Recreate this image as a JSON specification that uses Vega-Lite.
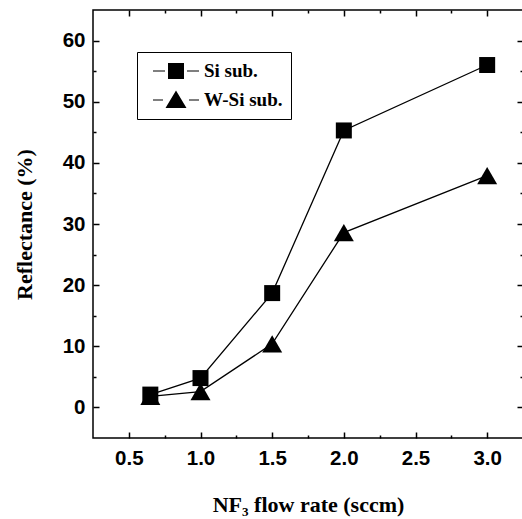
{
  "$schema": "https://vega.github.io/schema/vega-lite/v6.json",
  "autosize": "none",
  "padding": {"left": 93, "top": 10, "right": 0, "bottom": 81},
  "width": 430,
  "height": 428,
  "background": "white",
  "config": {
    "view": {"stroke": "black", "strokeWidth": 1.5},
    "axis": {
      "grid": false,
      "domain": false,
      "tickColor": "black",
      "tickWidth": 1.5,
      "labelColor": "black",
      "titleColor": "black",
      "labelFont": "Liberation Sans",
      "labelFontWeight": "bold",
      "labelFontSize": 20.5,
      "titleFont": "Liberation Serif",
      "titleFontWeight": "bold",
      "titleFontSize": 22
    }
  },
  "data": {
    "values": [
      {"flow": 0.65, "refl": 2.1, "series": "Si sub."},
      {"flow": 1.0, "refl": 4.8, "series": "Si sub."},
      {"flow": 1.5, "refl": 18.7, "series": "Si sub."},
      {"flow": 2.0, "refl": 45.3, "series": "Si sub."},
      {"flow": 3.0, "refl": 56.0, "series": "Si sub."},
      {"flow": 0.65, "refl": 1.8, "series": "W-Si sub."},
      {"flow": 1.0, "refl": 2.6, "series": "W-Si sub."},
      {"flow": 1.5, "refl": 10.4, "series": "W-Si sub."},
      {"flow": 2.0, "refl": 28.6, "series": "W-Si sub."},
      {"flow": 3.0, "refl": 37.9, "series": "W-Si sub."}
    ]
  },
  "layer": [
    {
      "mark": {"type": "line", "color": "black", "strokeWidth": 1.3},
      "encoding": {
        "x": {
          "field": "flow", "type": "quantitative",
          "scale": {"domain": [0.25, 3.25], "nice": false, "zero": false},
          "axis": {
            "orient": "bottom",
            "values": [0.5, 1.0, 1.5, 2.0, 2.5, 3.0],
            "format": ".1f",
            "tickSize": -6,
            "labelPadding": 16,
            "title": "NF₃ flow rate (sccm)",
            "titlePadding": 26
          }
        },
        "y": {
          "field": "refl", "type": "quantitative",
          "scale": {"domain": [-5, 65], "nice": false, "zero": false},
          "axis": {
            "orient": "left",
            "values": [0, 10, 20, 30, 40, 50, 60],
            "tickSize": -6,
            "labelPadding": 14,
            "title": "Reflectance (%)",
            "titlePadding": 26
          }
        },
        "detail": {"field": "series"}
      }
    },
    {
      "transform": [{"filter": "datum.series === 'Si sub.'"}],
      "mark": {"type": "point", "filled": true, "color": "black", "opacity": 1, "shape": "square", "size": 256},
      "encoding": {
        "x": {
          "field": "flow", "type": "quantitative",
          "scale": {"domain": [0.25, 3.25], "nice": false, "zero": false},
          "axis": {"orient": "top", "values": [0.5, 1.0, 1.5, 2.0, 2.5, 3.0], "tickSize": -6, "labels": false, "title": null}
        },
        "y": {
          "field": "refl", "type": "quantitative",
          "scale": {"domain": [-5, 65], "nice": false, "zero": false},
          "axis": {"orient": "right", "values": [0, 10, 20, 30, 40, 50, 60], "tickSize": -6, "labels": false, "title": null}
        }
      }
    },
    {
      "transform": [{"filter": "datum.series === 'W-Si sub.'"}],
      "mark": {"type": "point", "filled": true, "color": "black", "opacity": 1, "shape": "triangle-up", "size": 400},
      "encoding": {
        "x": {
          "field": "flow", "type": "quantitative",
          "scale": {"domain": [0.25, 3.25], "nice": false, "zero": false},
          "axis": {"orient": "bottom", "values": [0.75, 1.25, 1.75, 2.25, 2.75], "tickSize": -3, "labels": false, "title": null}
        },
        "y": {
          "field": "refl", "type": "quantitative",
          "scale": {"domain": [-5, 65], "nice": false, "zero": false},
          "axis": {"orient": "left", "values": [5, 15, 25, 35, 45, 55], "tickSize": -3, "labels": false, "title": null}
        }
      }
    },
    {
      "mark": {"type": "point", "filled": true, "color": "black", "opacity": 0, "size": 400},
      "encoding": {
        "x": {
          "field": "flow", "type": "quantitative",
          "scale": {"domain": [0.25, 3.25], "nice": false, "zero": false},
          "axis": {"orient": "top", "values": [0.75, 1.25, 1.75, 2.25, 2.75], "tickSize": -3, "labels": false, "title": null}
        },
        "y": {
          "field": "refl", "type": "quantitative",
          "scale": {"domain": [-5, 65], "nice": false, "zero": false},
          "axis": {"orient": "right", "values": [5, 15, 25, 35, 45, 55], "tickSize": -3, "labels": false, "title": null}
        },
        "shape": {
          "field": "series", "type": "nominal",
          "scale": {
            "domain": ["Si sub.", "W-Si sub."],
            "range": [
              "M-2.3,-0.06L-1.1,-0.06L-1.1,0.06L-2.3,0.06ZM1.1,-0.06L2.3,-0.06L2.3,0.06L1.1,0.06ZM-0.8,-0.8L0.8,-0.8L0.8,0.8L-0.8,0.8Z",
              "M-2.3,-0.06L-1.3,-0.06L-1.3,0.06L-2.3,0.06ZM1.3,-0.06L2.3,-0.06L2.3,0.06L1.3,0.06ZM0,-0.95L1.05,0.8L-1.05,0.8Z"
            ]
          },
          "legend": {
            "orient": "none",
            "legendX": 44,
            "legendY": 42,
            "title": null,
            "strokeColor": "black",
            "fillColor": "white",
            "padding": 8,
            "symbolOffset": 20,
            "symbolSize": 400,
            "symbolOpacity": 1,
            "symbolFillColor": "black",
            "labelFont": "Liberation Serif",
            "labelFontSize": 19,
            "labelFontWeight": "bold",
            "labelColor": "black",
            "labelOffset": 17,
            "rowPadding": 5
          }
        }
      }
    }
  ],
  "resolve": {"axis": {"x": "independent", "y": "independent"}}
}
